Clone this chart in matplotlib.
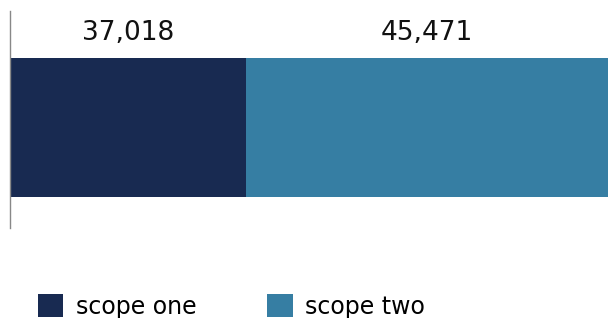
import matplotlib

matplotlib.use("Agg")
import matplotlib.pyplot as plt
from matplotlib.patches import Patch

# data
categories = ["scope one", "scope two"]
values = [37018, 45471]
colors = ["#182a51", "#367ea3"]

W, H = 608, 318
fig = plt.figure(figsize=(W / 100, H / 100), dpi=100)
ax = fig.add_axes([10 / W, (H - 228) / H, 598 / W, 217 / H])

left = 0
for name, val, col in zip(categories, values, colors):
    ax.barh(0, val, left=left, height=1.0, color=col, label=name)
    left += val

# visible window of the value axis (the chart starts the bar part-way in)
x_start = 7377
ax.set_xlim(x_start, sum(values))
ax.set_ylim(-0.723, 0.838)

# value labels centred over the visible part of each segment
left = 0
for val in values:
    lo = max(left, x_start)
    ax.annotate(f"{val:,}", xy=((lo + left + val) / 2, 0.5), xytext=(0, 13),
                textcoords="offset points", ha="center", va="baseline",
                fontsize=19, color="#111111")
    left += val

for side in ["top", "right", "bottom"]:
    ax.spines[side].set_visible(False)
ax.spines["left"].set_color("#888888")
ax.spines["left"].set_linewidth(1.0)
ax.set_xticks([])
ax.set_yticks([])

handles = [Patch(facecolor=c, edgecolor="none") for c in colors]
fig.legend(handles, categories, loc="upper left",
           bbox_to_anchor=(38 / W, 1 - 294 / H), ncol=2, frameon=False,
           fontsize=17, handlelength=1.06, handleheight=1.15,
           handletextpad=0.55, columnspacing=3.0, borderpad=0,
           borderaxespad=0)

fig.savefig("out.png", dpi=100)
